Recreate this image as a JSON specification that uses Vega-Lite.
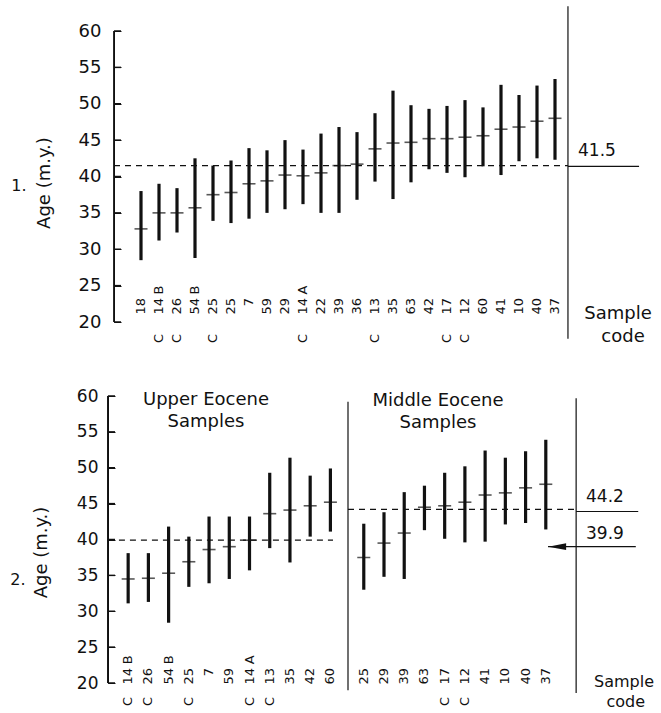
{
  "$schema": "https://vega.github.io/schema/vega-lite/v6.json",
  "padding": {"top": 5, "left": 10, "right": 0, "bottom": 0},
  "spacing": 41,
  "background": "white",
  "config": {
    "view": {"stroke": null},
    "font": "DejaVu Sans",
    "text": {"font": "DejaVu Sans", "color": "#111"},
    "axis": {"grid": false, "labelFont": "DejaVu Sans", "titleFont": "DejaVu Sans", "labelColor": "#111", "titleColor": "#111", "domainColor": "#111", "tickColor": "#111", "titleFontWeight": "normal", "labelOverlap": false}
  },
  "datasets": {
    "axisTicks": [{"age": 20}, {"age": 25}, {"age": 30}, {"age": 35}, {"age": 40}, {"age": 45}, {"age": 50}, {"age": 55}, {"age": 60}],
    "p1": [
      {"sample": "18", "pre": "", "num": "18", "suf": "", "low": 28.5, "mean": 32.8, "high": 38.0, "pos": 1},
      {"sample": "C 14 B", "pre": "C", "num": "14", "suf": "B", "low": 31.2, "mean": 35.0, "high": 39.0, "pos": 2},
      {"sample": "C 26", "pre": "C", "num": "26", "suf": "", "low": 32.3, "mean": 35.0, "high": 38.4, "pos": 3},
      {"sample": "54 B", "pre": "", "num": "54", "suf": "B", "low": 28.8, "mean": 35.7, "high": 42.5, "pos": 4},
      {"sample": "C 25", "pre": "C", "num": "25", "suf": "", "low": 33.9, "mean": 37.5, "high": 41.5, "pos": 5},
      {"sample": "25", "pre": "", "num": "25", "suf": "", "low": 33.6, "mean": 37.8, "high": 42.2, "pos": 6},
      {"sample": "7", "pre": "", "num": "7", "suf": "", "low": 34.2, "mean": 39.0, "high": 43.9, "pos": 7},
      {"sample": "59", "pre": "", "num": "59", "suf": "", "low": 35.0, "mean": 39.4, "high": 43.6, "pos": 8},
      {"sample": "29", "pre": "", "num": "29", "suf": "", "low": 35.5, "mean": 40.2, "high": 45.0, "pos": 9},
      {"sample": "C 14 A", "pre": "C", "num": "14", "suf": "A", "low": 36.2, "mean": 40.1, "high": 43.7, "pos": 10},
      {"sample": "22", "pre": "", "num": "22", "suf": "", "low": 35.0, "mean": 40.5, "high": 45.9, "pos": 11},
      {"sample": "39", "pre": "", "num": "39", "suf": "", "low": 35.0, "mean": 41.5, "high": 46.8, "pos": 12},
      {"sample": "36", "pre": "", "num": "36", "suf": "", "low": 36.8, "mean": 41.7, "high": 46.1, "pos": 13},
      {"sample": "C 13", "pre": "C", "num": "13", "suf": "", "low": 39.3, "mean": 43.8, "high": 48.7, "pos": 14},
      {"sample": "35", "pre": "", "num": "35", "suf": "", "low": 36.9, "mean": 44.6, "high": 51.8, "pos": 15},
      {"sample": "63", "pre": "", "num": "63", "suf": "", "low": 39.2, "mean": 44.7, "high": 49.8, "pos": 16},
      {"sample": "42", "pre": "", "num": "42", "suf": "", "low": 41.0, "mean": 45.2, "high": 49.3, "pos": 17},
      {"sample": "C 17", "pre": "C", "num": "17", "suf": "", "low": 40.5, "mean": 45.2, "high": 49.7, "pos": 18},
      {"sample": "C 12", "pre": "C", "num": "12", "suf": "", "low": 39.9, "mean": 45.4, "high": 50.5, "pos": 19},
      {"sample": "60", "pre": "", "num": "60", "suf": "", "low": 41.4, "mean": 45.6, "high": 49.5, "pos": 20},
      {"sample": "41", "pre": "", "num": "41", "suf": "", "low": 40.2, "mean": 46.5, "high": 52.6, "pos": 21},
      {"sample": "10", "pre": "", "num": "10", "suf": "", "low": 42.1, "mean": 46.8, "high": 51.2, "pos": 22},
      {"sample": "40", "pre": "", "num": "40", "suf": "", "low": 42.5, "mean": 47.6, "high": 52.5, "pos": 23},
      {"sample": "37", "pre": "", "num": "37", "suf": "", "low": 42.3, "mean": 48.0, "high": 53.4, "pos": 24}
    ],
    "p2": [
      {"group": "Upper Eocene", "sample": "C 14 B", "pre": "C", "num": "14", "suf": "B", "low": 31.1, "mean": 34.5, "high": 38.1, "pos": 1},
      {"group": "Upper Eocene", "sample": "C 26", "pre": "C", "num": "26", "suf": "", "low": 31.3, "mean": 34.6, "high": 38.1, "pos": 2},
      {"group": "Upper Eocene", "sample": "54 B", "pre": "", "num": "54", "suf": "B", "low": 28.4, "mean": 35.3, "high": 41.8, "pos": 3},
      {"group": "Upper Eocene", "sample": "C 25", "pre": "C", "num": "25", "suf": "", "low": 33.4, "mean": 36.9, "high": 40.4, "pos": 4},
      {"group": "Upper Eocene", "sample": "7", "pre": "", "num": "7", "suf": "", "low": 33.9, "mean": 38.6, "high": 43.2, "pos": 5},
      {"group": "Upper Eocene", "sample": "59", "pre": "", "num": "59", "suf": "", "low": 34.5, "mean": 39.0, "high": 43.2, "pos": 6},
      {"group": "Upper Eocene", "sample": "C 14 A", "pre": "C", "num": "14", "suf": "A", "low": 35.7, "mean": 39.9, "high": 43.2, "pos": 7},
      {"group": "Upper Eocene", "sample": "C 13", "pre": "C", "num": "13", "suf": "", "low": 38.8, "mean": 43.6, "high": 49.3, "pos": 8},
      {"group": "Upper Eocene", "sample": "35", "pre": "", "num": "35", "suf": "", "low": 36.8, "mean": 44.1, "high": 51.4, "pos": 9},
      {"group": "Upper Eocene", "sample": "42", "pre": "", "num": "42", "suf": "", "low": 40.4, "mean": 44.7, "high": 48.9, "pos": 10},
      {"group": "Upper Eocene", "sample": "60", "pre": "", "num": "60", "suf": "", "low": 41.1, "mean": 45.2, "high": 49.9, "pos": 11},
      {"group": "Middle Eocene", "sample": "25", "pre": "", "num": "25", "suf": "", "low": 33.0, "mean": 37.5, "high": 42.2, "pos": 12.65},
      {"group": "Middle Eocene", "sample": "29", "pre": "", "num": "29", "suf": "", "low": 34.8, "mean": 39.5, "high": 43.8, "pos": 13.65},
      {"group": "Middle Eocene", "sample": "39", "pre": "", "num": "39", "suf": "", "low": 34.5, "mean": 40.9, "high": 46.6, "pos": 14.65},
      {"group": "Middle Eocene", "sample": "63", "pre": "", "num": "63", "suf": "", "low": 41.3, "mean": 44.5, "high": 47.5, "pos": 15.65},
      {"group": "Middle Eocene", "sample": "C 17", "pre": "C", "num": "17", "suf": "", "low": 40.1, "mean": 44.7, "high": 49.3, "pos": 16.65},
      {"group": "Middle Eocene", "sample": "C 12", "pre": "C", "num": "12", "suf": "", "low": 39.6, "mean": 45.2, "high": 50.2, "pos": 17.65},
      {"group": "Middle Eocene", "sample": "41", "pre": "", "num": "41", "suf": "", "low": 39.7, "mean": 46.2, "high": 52.4, "pos": 18.65},
      {"group": "Middle Eocene", "sample": "10", "pre": "", "num": "10", "suf": "", "low": 42.1, "mean": 46.5, "high": 51.4, "pos": 19.65},
      {"group": "Middle Eocene", "sample": "40", "pre": "", "num": "40", "suf": "", "low": 42.3, "mean": 47.2, "high": 52.3, "pos": 20.65},
      {"group": "Middle Eocene", "sample": "37", "pre": "", "num": "37", "suf": "", "low": 41.4, "mean": 47.7, "high": 53.9, "pos": 21.65}
    ]
  },
  "vconcat": [
    {
      "width": 540,
      "height": 291,
      "data": {"name": "p1"},
      "resolve": {"axis": {"x": "independent", "y": "independent"}},
      "layer": [
        {
          "mark": {"type": "rule", "strokeWidth": 3.2, "color": "#111"},
          "encoding": {
            "x": {"field": "pos", "type": "quantitative", "axis": null, "scale": {"domain": [-0.5, 29.5], "nice": false, "zero": false}},
            "y": {"field": "low", "type": "quantitative", "scale": {"domain": [20, 60], "nice": false, "zero": false},
              "axis": {"values": [20, 25, 30, 35, 40, 45, 50, 55, 60], "tickSize": -7, "labelFontSize": 18, "labelPadding": 20, "title": null}},
            "y2": {"field": "high"}
          }
        },
        {
          "mark": {"type": "tick", "orient": "horizontal", "size": 13, "thickness": 1.6, "color": "#111"},
          "encoding": {
            "x": {"field": "pos", "type": "quantitative", "axis": null},
            "y": {"field": "mean", "type": "quantitative", "axis": null}
          }
        },
        {
          "data": {"values": [{}]},
          "mark": {"type": "rule", "strokeWidth": 1.8, "color": "#111"},
          "encoding": {"x": {"datum": -0.5, "axis": null}, "y": {"datum": 20, "axis": null}, "y2": {"datum": 60}}
        },
        {
          "data": {"name": "axisTicks"},
          "mark": {"type": "rule", "strokeWidth": 1.5, "color": "#111"},
          "encoding": {"x": {"datum": -0.5, "axis": null}, "x2": {"datum": -0.11}, "y": {"field": "age", "type": "quantitative", "axis": null}}
        },
        {
          "mark": {"type": "text", "angle": 270, "align": "right", "baseline": "middle", "fontSize": 13},
          "encoding": {"x": {"field": "pos", "type": "quantitative", "axis": null}, "y": {"datum": 23.3, "axis": null}, "text": {"field": "num"}}
        },
        {
          "mark": {"type": "text", "angle": 270, "align": "right", "baseline": "middle", "fontSize": 13},
          "encoding": {"x": {"field": "pos", "type": "quantitative", "axis": null}, "y": {"datum": 25.0, "axis": null}, "text": {"field": "suf"}}
        },
        {
          "mark": {"type": "text", "angle": 270, "align": "right", "baseline": "middle", "fontSize": 13},
          "encoding": {"x": {"field": "pos", "type": "quantitative", "axis": null}, "y": {"datum": 18.35, "axis": null}, "text": {"field": "pre"}}
        },
        {
          "data": {"values": [{}]},
          "mark": {"type": "rule", "strokeDash": [6, 5], "strokeWidth": 1.3, "color": "#111"},
          "encoding": {"x": {"datum": -0.5, "axis": null}, "x2": {"datum": 24.72}, "y": {"datum": 41.5, "axis": null}}
        },
        {
          "data": {"values": [{}]},
          "mark": {"type": "rule", "strokeWidth": 1.2, "color": "#111"},
          "encoding": {"x": {"datum": 24.72, "axis": null}, "x2": {"datum": 28.67}, "y": {"datum": 41.4, "axis": null}}
        },
        {
          "data": {"values": [{}]},
          "mark": {"type": "rule", "strokeWidth": 1.2, "color": "#111"},
          "encoding": {"x": {"datum": 24.72, "axis": null}, "y": {"datum": 17.7, "axis": null}, "y2": {"datum": 63.4}}
        },
        {
          "data": {"values": [{}]},
          "mark": {"type": "text", "text": "41.5", "fontSize": 17, "align": "left", "baseline": "middle"},
          "encoding": {"x": {"datum": 25.28, "axis": null}, "y": {"datum": 43.5, "axis": null}}
        },
        {
          "data": {"values": [{}]},
          "mark": {"type": "text", "text": "Sample", "fontSize": 18, "align": "center", "baseline": "middle"},
          "encoding": {"x": {"datum": 27.5, "axis": null}, "y": {"datum": 21.1, "axis": null}}
        },
        {
          "data": {"values": [{}]},
          "mark": {"type": "text", "text": "code", "fontSize": 18, "align": "center", "baseline": "middle"},
          "encoding": {"x": {"datum": 27.78, "axis": null}, "y": {"datum": 17.94, "axis": null}}
        },
        {
          "data": {"values": [{}]},
          "mark": {"type": "text", "text": "Age (m.y.)", "fontSize": 18, "angle": 270, "align": "center", "baseline": "middle"},
          "encoding": {"x": {"datum": -4.33, "axis": null}, "y": {"datum": 39.1, "axis": null}}
        },
        {
          "data": {"values": [{}]},
          "mark": {"type": "text", "text": "1.", "fontSize": 16, "align": "center", "baseline": "middle"},
          "encoding": {"x": {"datum": -5.78, "axis": null}, "y": {"datum": 38.7, "axis": null}}
        }
      ]
    },
    {
      "width": 540,
      "height": 287,
      "data": {"name": "p2"},
      "resolve": {"axis": {"x": "independent", "y": "independent"}},
      "layer": [
        {
          "mark": {"type": "rule", "strokeWidth": 3.2, "color": "#111"},
          "encoding": {
            "x": {"field": "pos", "type": "quantitative", "axis": null, "scale": {"domain": [0.3, 27.0], "nice": false, "zero": false}},
            "y": {"field": "low", "type": "quantitative", "scale": {"domain": [20, 60], "nice": false, "zero": false},
              "axis": {"values": [20, 25, 30, 35, 40, 45, 50, 55, 60], "offset": 6, "tickSize": -7, "labelFontSize": 17, "labelPadding": 17, "title": "Age (m.y.)", "titleFontSize": 18, "titleX": -67, "titleY": 156, "titleAngle": 270, "titleBaseline": "middle", "titleAlign": "center"}},
            "y2": {"field": "high"}
          }
        },
        {
          "mark": {"type": "tick", "orient": "horizontal", "size": 13, "thickness": 1.6, "color": "#111"},
          "encoding": {
            "x": {"field": "pos", "type": "quantitative", "axis": null},
            "y": {"field": "mean", "type": "quantitative", "axis": null}
          }
        },
        {
          "data": {"values": [{}]},
          "mark": {"type": "rule", "strokeWidth": 1.8, "color": "#111"},
          "encoding": {"x": {"datum": 0.0, "axis": null}, "y": {"datum": 20, "axis": null}, "y2": {"datum": 60}}
        },
        {
          "data": {"name": "axisTicks"},
          "mark": {"type": "rule", "strokeWidth": 1.5, "color": "#111"},
          "encoding": {"x": {"datum": 0.0, "axis": null}, "x2": {"datum": 0.35}, "y": {"field": "age", "type": "quantitative", "axis": null}}
        },
        {
          "mark": {"type": "text", "angle": 270, "align": "right", "baseline": "middle", "fontSize": 13},
          "encoding": {"x": {"field": "pos", "type": "quantitative", "axis": null}, "y": {"datum": 22.1, "axis": null}, "text": {"field": "num"}}
        },
        {
          "mark": {"type": "text", "angle": 270, "align": "right", "baseline": "middle", "fontSize": 13},
          "encoding": {"x": {"field": "pos", "type": "quantitative", "axis": null}, "y": {"datum": 23.85, "axis": null}, "text": {"field": "suf"}}
        },
        {
          "mark": {"type": "text", "angle": 270, "align": "right", "baseline": "middle", "fontSize": 13},
          "encoding": {"x": {"field": "pos", "type": "quantitative", "axis": null}, "y": {"datum": 18.05, "axis": null}, "text": {"field": "pre"}}
        },
        {
          "data": {"values": [{}]},
          "mark": {"type": "rule", "strokeDash": [6, 5], "strokeWidth": 1.3, "color": "#111"},
          "encoding": {"x": {"datum": 0.0, "axis": null}, "x2": {"datum": 11.13}, "y": {"datum": 39.9, "axis": null}}
        },
        {
          "data": {"values": [{}]},
          "mark": {"type": "rule", "strokeDash": [6, 5], "strokeWidth": 1.3, "color": "#111"},
          "encoding": {"x": {"datum": 11.87, "axis": null}, "x2": {"datum": 23.15}, "y": {"datum": 44.2, "axis": null}}
        },
        {
          "data": {"values": [{}]},
          "mark": {"type": "rule", "strokeWidth": 1.2, "color": "#111"},
          "encoding": {"x": {"datum": 11.87, "axis": null}, "y": {"datum": 19.0, "axis": null}, "y2": {"datum": 59.2}}
        },
        {
          "data": {"values": [{}]},
          "mark": {"type": "rule", "strokeWidth": 1.2, "color": "#111"},
          "encoding": {"x": {"datum": 23.15, "axis": null}, "y": {"datum": 18.6, "axis": null}, "y2": {"datum": 59.7}}
        },
        {
          "data": {"values": [{}]},
          "mark": {"type": "rule", "strokeWidth": 1.2, "color": "#111"},
          "encoding": {"x": {"datum": 23.15, "axis": null}, "x2": {"datum": 26.22}, "y": {"datum": 43.9, "axis": null}}
        },
        {
          "data": {"values": [{}]},
          "mark": {"type": "rule", "strokeWidth": 1.2, "color": "#111"},
          "encoding": {"x": {"datum": 21.76, "axis": null}, "x2": {"datum": 26.1}, "y": {"datum": 39.0, "axis": null}}
        },
        {
          "data": {"values": [{}]},
          "mark": {"type": "point", "shape": "M -1 0 L 1 -0.38 L 1 0.38 Z", "filled": true, "size": 324, "color": "#111", "opacity": 1},
          "encoding": {"x": {"datum": 22.21, "axis": null}, "y": {"datum": 39.0, "axis": null}}
        },
        {
          "data": {"values": [{}]},
          "mark": {"type": "text", "text": "44.2", "fontSize": 17, "align": "left", "baseline": "middle"},
          "encoding": {"x": {"datum": 23.64, "axis": null}, "y": {"datum": 45.9, "axis": null}}
        },
        {
          "data": {"values": [{}]},
          "mark": {"type": "text", "text": "39.9", "fontSize": 17, "align": "left", "baseline": "middle"},
          "encoding": {"x": {"datum": 23.64, "axis": null}, "y": {"datum": 40.77, "axis": null}}
        },
        {
          "data": {"values": [{}]},
          "mark": {"type": "text", "text": "Upper Eocene\nSamples", "lineBreak": "\n", "lineHeight": 22, "fontSize": 18, "align": "center", "baseline": "top"},
          "encoding": {"x": {"datum": 4.85, "axis": null}, "y": {"datum": 60.7, "axis": null}}
        },
        {
          "data": {"values": [{}]},
          "mark": {"type": "text", "text": "Middle Eocene\nSamples", "lineBreak": "\n", "lineHeight": 22, "fontSize": 18, "align": "center", "baseline": "top"},
          "encoding": {"x": {"datum": 16.32, "axis": null}, "y": {"datum": 60.5, "axis": null}}
        },
        {
          "data": {"values": [{}]},
          "mark": {"type": "text", "text": "Sample", "fontSize": 16, "align": "center", "baseline": "middle"},
          "encoding": {"x": {"datum": 25.52, "axis": null}, "y": {"datum": 20.14, "axis": null}}
        },
        {
          "data": {"values": [{}]},
          "mark": {"type": "text", "text": "code", "fontSize": 16, "align": "center", "baseline": "middle"},
          "encoding": {"x": {"datum": 25.6, "axis": null}, "y": {"datum": 17.3, "axis": null}}
        },
        {
          "data": {"values": [{}]},
          "mark": {"type": "text", "text": "2.", "fontSize": 16, "align": "center", "baseline": "middle"},
          "encoding": {"x": {"datum": -4.45, "axis": null}, "y": {"datum": 34.35, "axis": null}}
        }
      ]
    }
  ]
}
